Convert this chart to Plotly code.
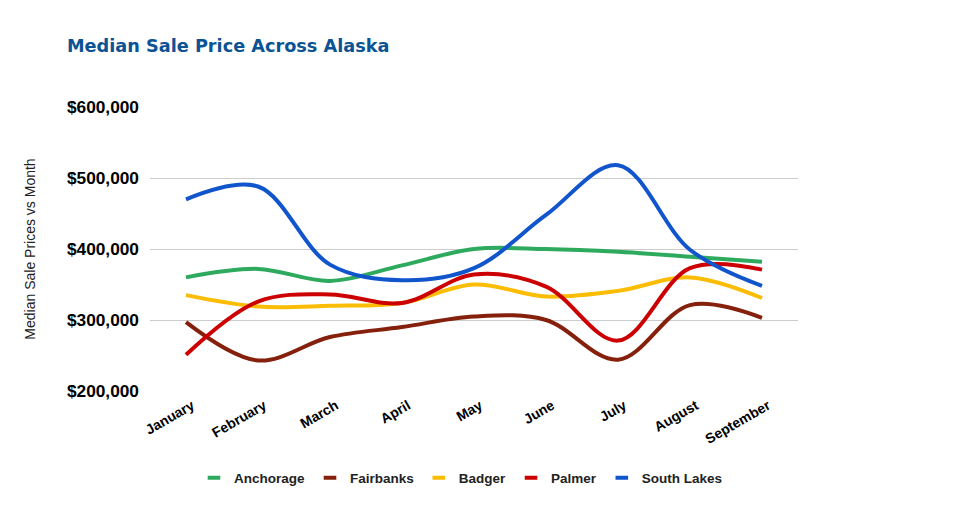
import plotly.graph_objects as go

months = ["January", "February", "March", "April", "May", "June", "July", "August", "September"]
anchorage = [360000, 372000, 355000, 377000, 400000, 400000, 396000, 389000, 382000]
fairbanks = [297000, 243000, 276000, 290000, 305000, 300000, 244000, 321000, 303000]
badger = [335000, 319000, 320000, 324000, 350000, 333000, 341000, 360000, 331000]
palmer = [251000, 326000, 336000, 324000, 364000, 347000, 271000, 373000, 371000]
south_lakes = [470000, 488000, 378000, 356000, 373000, 448000, 518000, 399000, 348000]

series_names = ["Anchorage", "Fairbanks", "Badger", "Palmer", "South Lakes"]
series_values = [anchorage, fairbanks, badger, palmer, south_lakes]
colors = ["#2eaa5e", "#85200c", "#fbbc04", "#cc0000", "#1155cc"]

y_ticks = [200000, 300000, 400000, 500000, 600000]
y_tick_labels = ["$200,000", "$300,000", "$400,000", "$500,000", "$600,000"]

# page body has an 8px margin; compensate so the chart lands where intended
OFF = 8
W, H = 956, 507

fig = go.Figure()
for name, vals, c in zip(series_names, series_values, colors):
    fig.add_trace(go.Scatter(
        x=months, y=vals, name=name, mode="lines",
        line=dict(color=c, width=4, shape="spline", smoothing=1.0),
        showlegend=False, hoverinfo="x+y+name",
    ))
for name, c in zip(series_names, colors):
    fig.add_trace(go.Scatter(
        x=[None], y=[None], name=name, mode="markers",
        marker=dict(symbol="line-ew-open", size=9, color=c, line=dict(color=c, width=4)),
        showlegend=True,
    ))

fig.update_layout(
    width=W, height=H,
    paper_bgcolor="white", plot_bgcolor="white",
    margin=dict(l=150 - OFF, r=158 + OFF, t=107 - OFF, b=116 + OFF),
    title=dict(
        text="<b>Median Sale Price Across Alaska</b>",
        font=dict(family="DejaVu Sans", size=17.7, color="#0b5394"),
        xref="container", yref="container",
        x=(67 - OFF) / W, xanchor="left", y=1 - (46 - OFF) / H, yanchor="middle",
    ),
    font=dict(family="Liberation Sans, Arial, sans-serif", color="#222222"),
    legend=dict(
        orientation="h", x=(461 - OFF) / W, xanchor="center",
        xref="container", yref="container",
        y=1 - (478 - OFF) / H, yanchor="middle",
        font=dict(size=13.5, color="#222222", family="Liberation Sans", weight="bold"),
        itemwidth=30, tracegroupgap=0,
    ),
    xaxis=dict(
        type="category", showgrid=False, zeroline=False, showline=False,
        tickangle=-30, ticks="",
        tickfont=dict(size=14, color="#000000", family="Liberation Sans", weight="bold"),
        ticklabelshift=6, ticklabelstandoff=3,
        range=[-0.5, 8.5],
    ),
    yaxis=dict(
        range=[200000, 600000], tickvals=y_ticks,
        ticktext=["<b>%s</b>" % t for t in y_tick_labels],
        showgrid=True, gridcolor="#cccccc", gridwidth=1, zeroline=False,
        showline=False, ticks="",
        tickfont=dict(size=17.3, color="#000000", family="Liberation Sans"),
        ticklabelstandoff=10,
        title=dict(text="Median Sale Prices vs Month",
                   font=dict(size=14, color="#222222", family="Liberation Sans"),
                   standoff=28),
    ),
)

fig.write_html("out.html")
